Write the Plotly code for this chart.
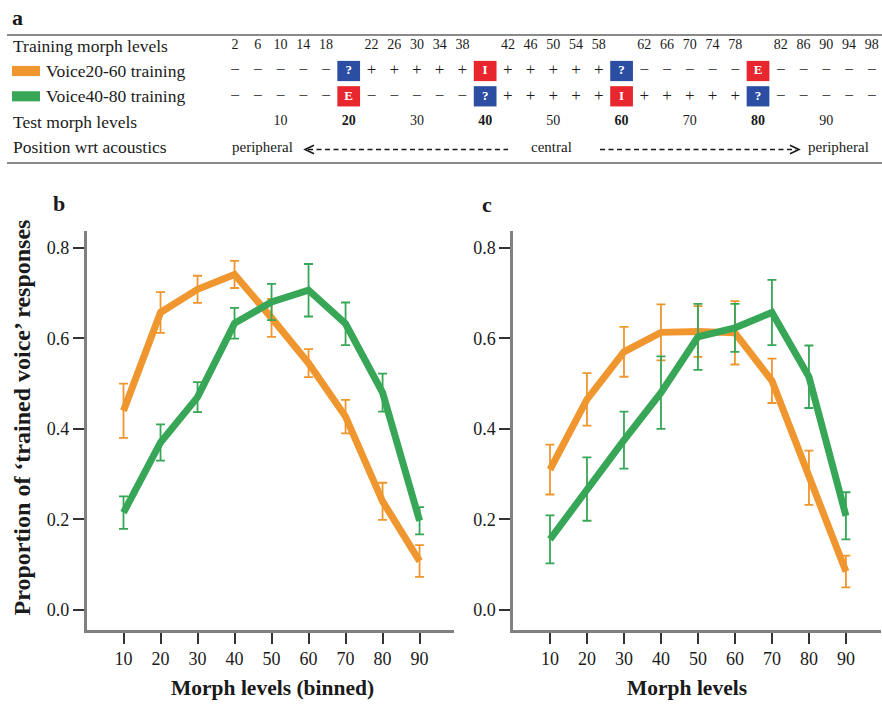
import plotly.graph_objects as go

# ---------------- data ----------------
morph_bins = [10, 20, 30, 40, 50, 60, 70, 80, 90]

b_voice20_60 = [0.44, 0.657, 0.708, 0.741, 0.645, 0.545, 0.427, 0.24, 0.108]
b_voice20_60_err = [0.06, 0.045, 0.03, 0.03, 0.042, 0.031, 0.037, 0.041, 0.035]
b_voice40_80 = [0.215, 0.37, 0.47, 0.633, 0.68, 0.706, 0.632, 0.48, 0.197]
b_voice40_80_err = [0.036, 0.04, 0.033, 0.034, 0.04, 0.058, 0.047, 0.042, 0.03]

c_voice20_60 = [0.31, 0.465, 0.57, 0.613, 0.615, 0.612, 0.506, 0.292, 0.085]
c_voice20_60_err = [0.055, 0.058, 0.055, 0.062, 0.056, 0.07, 0.049, 0.06, 0.035]
c_voice40_80 = [0.156, 0.267, 0.375, 0.48, 0.603, 0.623, 0.657, 0.515, 0.208]
c_voice40_80_err = [0.053, 0.07, 0.063, 0.08, 0.073, 0.053, 0.072, 0.069, 0.052]

y_ticks = [0.0, 0.2, 0.4, 0.6, 0.8]
y_tick_labels = ["0.0", "0.2", "0.4", "0.6", "0.8"]

# table (panel a)
training_levels = [2, 6, 10, 14, 18, 22, 26, 30, 34, 38, 42, 46, 50, 54, 58,
                   62, 66, 70, 74, 78, 82, 86, 90, 94, 98]
voice20_60_training = ["−"] * 5 + ["+"] * 10 + ["−"] * 10
voice40_80_training = ["−"] * 10 + ["+"] * 10 + ["−"] * 5
boxed_levels = [20, 40, 60, 80]
voice20_60_boxes = ["?", "I", "?", "E"]
voice40_80_boxes = ["E", "?", "I", "?"]
test_levels = [10, 20, 30, 40, 50, 60, 70, 80, 90]
row_labels = ["Training morph levels", "Voice20-60 training", "Voice40-80 training",
              "Test morph levels", "Position wrt acoustics"]

ORANGE = "#F0962E"
GREEN = "#37A656"
BLUE = "#2B4EA2"
RED = "#E8262E"
FONT = "Liberation Serif"
TXT = "#1a1a1a"
AXC = "#808080"

W, H = 882, 705
def px(p): return p / W
def py(p): return 1 - p / H

columns = sorted(training_levels + boxed_levels)
def col(v): return columns.index(v)

fig = go.Figure()

# ---------------- panels b and c ----------------
for xa, ya, s1, e1, s2, e2 in [("x", "y", b_voice20_60, b_voice20_60_err, b_voice40_80, b_voice40_80_err),
                               ("x2", "y2", c_voice20_60, c_voice20_60_err, c_voice40_80, c_voice40_80_err)]:
    for vals, errs, colr in [(s1, e1, ORANGE), (s2, e2, GREEN)]:
        fig.add_trace(go.Scatter(
            x=morph_bins, y=vals, mode="lines", xaxis=xa, yaxis=ya,
            line=dict(color=colr, width=7),
            error_y=dict(type="data", array=errs, visible=True, color=colr,
                         thickness=1.8, width=4.5),
            showlegend=False, hoverinfo="skip"))

# ---------------- table (panel a) ----------------
fig.add_trace(go.Scatter(
    x=[col(v) for v in training_levels], y=[0] * len(training_levels),
    text=[str(v) for v in training_levels], mode="text", xaxis="x3", yaxis="y3",
    textfont=dict(family=FONT, size=14, color=TXT), showlegend=False, hoverinfo="skip"))
for r, syms in [(1, voice20_60_training), (2, voice40_80_training)]:
    fig.add_trace(go.Scatter(
        x=[col(v) for v in training_levels], y=[-r] * len(training_levels),
        text=syms, mode="text", xaxis="x3", yaxis="y3",
        textfont=dict(family=FONT, size=17, color=TXT), showlegend=False, hoverinfo="skip"))
box_x, box_y, box_t = [], [], []
shapes = []
for r, labs in [(1, voice20_60_boxes), (2, voice40_80_boxes)]:
    for lv, t in zip(boxed_levels, labs):
        c = col(lv)
        box_x.append(c); box_y.append(-r); box_t.append("<b>%s</b>" % t)
        shapes.append(dict(type="rect", xref="x3", yref="y3", x0=c - 0.5, x1=c + 0.5,
                           y0=-r - 0.4, y1=-r + 0.4, fillcolor=BLUE if t == "?" else RED,
                           line=dict(width=0), layer="below"))
fig.add_trace(go.Scatter(
    x=box_x, y=box_y, text=box_t, mode="text", xaxis="x3", yaxis="y3",
    textfont=dict(family=FONT, size=13, color="white"), showlegend=False, hoverinfo="skip"))
fig.add_trace(go.Scatter(
    x=[col(v) for v in test_levels], y=[-3] * len(test_levels),
    text=[("<b>%d</b>" % v) if v in boxed_levels else str(v) for v in test_levels],
    mode="text", xaxis="x3", yaxis="y3",
    textfont=dict(family=FONT, size=14, color=TXT), showlegend=False, hoverinfo="skip"))

# table axes mapping: column i at px 235 + 22.74 i ; row r at px 45.7 + 25.3 r
CW, C0 = 22.74, 235.0
RH, R0 = 25.3, 45.7
def cx(p): return (p - C0) / CW
def ry(p): return -(p - R0) / RH

# rules
for yy in [35, 163]:
    shapes.append(dict(type="line", xref="x3", yref="y3", x0=cx(7), x1=cx(882),
                       y0=ry(yy), y1=ry(yy), line=dict(color="#8a8a8a", width=2)))
# legend swatches
for r, colr in [(1, ORANGE), (2, GREEN)]:
    shapes.append(dict(type="rect", xref="x3", yref="y3", x0=cx(12), x1=cx(40),
                       y0=-r - 0.2, y1=-r + 0.2, fillcolor=colr, line=dict(width=0)))
# dashed arrows
ya_ = ry(149.5)
shapes.append(dict(type="line", xref="x3", yref="y3", x0=cx(308), x1=cx(508), y0=ya_, y1=ya_,
                   line=dict(color=TXT, width=1.3, dash="5px,3.5px")))
shapes.append(dict(type="path", xref="x3", yref="y3",
                   path="M %f,%f L %f,%f L %f,%f" % (cx(314), ya_ + 0.17, cx(305), ya_, cx(314), ya_ - 0.17),
                   line=dict(color=TXT, width=1.6)))
shapes.append(dict(type="line", xref="x3", yref="y3", x0=cx(600), x1=cx(796), y0=ya_, y1=ya_,
                   line=dict(color=TXT, width=1.3, dash="5px,3.5px")))
shapes.append(dict(type="path", xref="x3", yref="y3",
                   path="M %f,%f L %f,%f L %f,%f" % (cx(790), ya_ + 0.17, cx(799), ya_, cx(790), ya_ - 0.17),
                   line=dict(color=TXT, width=1.6)))

annotations = []
# row labels
for i, lab in enumerate(row_labels):
    xpos = 44 if i in (1, 2) else 11
    annotations.append(dict(text=lab, x=px(xpos), y=py(R0 + RH * i), xref="paper", yref="paper",
                            xanchor="left", yanchor="middle", showarrow=False,
                            font=dict(family=FONT, size=17.5, color=TXT)))
for t, xp in [("peripheral", 262), ("central", 551.7), ("peripheral", 838)]:
    annotations.append(dict(text=t, x=px(xp), y=py(147), xref="paper", yref="paper",
                            xanchor="center", yanchor="middle", showarrow=False,
                            font=dict(family=FONT, size=15, color=TXT)))
# panel letters
for t, xp, yp in [("a", 17.5, 17), ("b", 59, 204), ("c", 487, 205)]:
    annotations.append(dict(text="<b>%s</b>" % t, x=px(xp), y=py(yp), xref="paper", yref="paper",
                            xanchor="center", yanchor="middle", showarrow=False,
                            font=dict(family=FONT, size=22, color=TXT)))
# axis titles
for t, xp in [("Morph levels (binned)", 272), ("Morph levels", 687)]:
    annotations.append(dict(text="<b>%s</b>" % t, x=px(xp), y=py(688), xref="paper", yref="paper",
                            xanchor="center", yanchor="middle", showarrow=False,
                            font=dict(family=FONT, size=21.5, color=TXT)))
annotations.append(dict(text="<b>Proportion of ‘trained voice’ responses</b>", x=px(21), y=py(417.5),
                        xref="paper", yref="paper", xanchor="center", yanchor="middle",
                        textangle=-90, showarrow=False,
                        font=dict(family=FONT, size=24, color=TXT)))

ydom = [py(630), py(230.7)]
yrange = [-0.0442, 0.8375]
common_x = dict(tickmode="array", tickvals=morph_bins, ticktext=[str(v) for v in morph_bins],
                ticks="outside", ticklen=11, tickwidth=1.5, tickcolor="#333",
                showline=True, linecolor=AXC, linewidth=2.5, showgrid=False, zeroline=False,
                tickfont=dict(family=FONT, size=18, color=TXT), fixedrange=True)
common_y = dict(tickmode="array", tickvals=y_ticks, ticktext=y_tick_labels,
                ticks="outside", ticklen=11, tickwidth=1.5, tickcolor="#333",
                showline=True, linecolor=AXC, linewidth=2.5, showgrid=False, zeroline=False,
                tickfont=dict(family=FONT, size=18, color=TXT), range=yrange, domain=ydom,
                fixedrange=True)

fig.update_layout(
    width=W, height=H, margin=dict(l=0, r=0, t=0, b=0),
    paper_bgcolor="white", plot_bgcolor="white", showlegend=False,
    xaxis=dict(**common_x, domain=[px(86.5), px(454)], range=[0, 99.3], anchor="y"),
    yaxis=dict(**common_y, anchor="x"),
    xaxis2=dict(**common_x, domain=[px(513), px(880.7)], range=[0, 99.4], anchor="y2"),
    yaxis2=dict(**common_y, anchor="x2"),
    xaxis3=dict(domain=[0, 1], range=[cx(0), cx(882)], visible=False, anchor="y3", fixedrange=True),
    yaxis3=dict(domain=[py(180), 1], range=[ry(180), ry(0)], visible=False, anchor="x3", fixedrange=True),
    shapes=shapes, annotations=annotations,
)

fig.write_html("out.html", config={"displayModeBar": False},
               post_script="document.body.style.margin='0px';document.body.style.padding='0px';")
